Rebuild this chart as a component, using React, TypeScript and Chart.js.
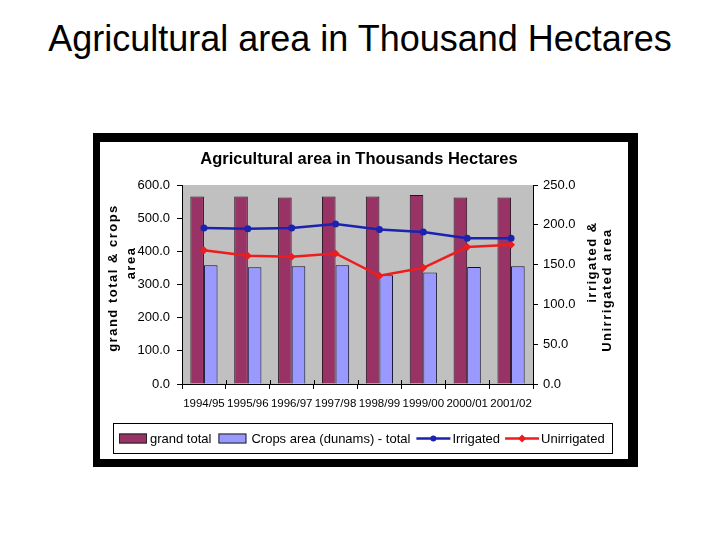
import React, { useEffect, useRef } from "react";
import { Chart, registerables } from "chart.js";

Chart.register(...registerables);

const categories = ["1994/95", "1995/96", "1996/97", "1997/98", "1998/99", "1999/00", "2000/01", "2001/02"];
const grandTotal = [565, 565, 562, 565, 565, 570, 562, 562];
const cropsArea = [358, 352, 355, 358, 328, 336, 353, 355];
const irrigated = [196, 195, 196, 201, 194, 191, 183, 183];
const unirrigated = [168, 161, 160, 164, 136, 146, 172, 175];

const leftTicksMax = 600;
const leftStep = 100;
const rightTicksMax = 250;
const rightStep = 50;

const slideTitle = "Agricultural area in Thousand Hectares";
const chartTitle = "Agricultural area in Thousands Hectares";
const leftTitle = ["grand total & crops", "area"];
const rightTitle = ["irrigated &", "Unirrigated area"];
const seriesNames = ["grand total", "Crops area (dunams) - total", "Irrigated", "Unirrigated"];

const C_GRAND = "#993366";
const C_CROPS = "#9999ff";
const C_IRR = "#1a22b0";
const C_UNIRR = "#ee1c1c";
const FONT = "Arial, 'Liberation Sans', sans-serif";

const decor = {
  id: "decor",
  beforeDraw(chart: any) {
    const { ctx, chartArea: a } = chart;
    ctx.save();
    ctx.fillStyle = "#ffffff";
    ctx.fillRect(0, 0, chart.width, chart.height);
    ctx.fillStyle = "#c0c0c0";
    ctx.fillRect(a.left, a.top, a.right - a.left, a.bottom - a.top);
    ctx.restore();
  },
  afterDraw(chart: any) {
    const { ctx, chartArea: a } = chart;
    ctx.save();
    // chart title
    ctx.fillStyle = "#000";
    ctx.font = `bold 16.5px ${FONT}`;
    ctx.textAlign = "center";
    ctx.textBaseline = "middle";
    ctx.fillText(chartTitle, 259, 17);

    // cross ticks on x axis
    ctx.strokeStyle = "#000";
    ctx.lineWidth = 1;
    const n = categories.length;
    for (let i = 0; i <= n; i++) {
      const x = Math.round(a.left + (i * (a.right - a.left)) / n) + 0.5;
      ctx.beginPath();
      ctx.moveTo(x, a.bottom - 4);
      ctx.lineTo(x, a.bottom);
      ctx.stroke();
    }

    // axis titles
    ctx.font = `bold 13px ${FONT}`;
    (ctx as any).letterSpacing = "1.5px";
    const drawRot = (text: string, x: number, y: number) => {
      ctx.save();
      ctx.translate(x, y);
      ctx.rotate(-Math.PI / 2);
      ctx.textAlign = "center";
      ctx.textBaseline = "middle";
      ctx.fillText(text, 0, 0);
      ctx.restore();
    };
    drawRot(leftTitle[0], 13, 136);
    drawRot(leftTitle[1], 31, 121);
    drawRot(rightTitle[0], 492, 120);
    drawRot(rightTitle[1], 507, 148);
    (ctx as any).letterSpacing = "0px";

    // legend
    const bx = 13, by = 281, bw = 499, bh = 30;
    ctx.strokeStyle = "#000";
    ctx.strokeRect(bx + 0.5, by + 0.5, bw, bh);
    const cy = by + bh / 2 + 0.5;
    ctx.font = `13px ${FONT}`;
    ctx.textAlign = "left";
    ctx.textBaseline = "middle";
    let x = 19;
    const swatch = (color: string) => {
      ctx.fillStyle = color;
      ctx.fillRect(x, cy - 5, 28, 10);
      ctx.strokeStyle = "#222";
      ctx.strokeRect(x + 0.5, cy - 5 + 0.5, 27, 9);
      x += 28;
    };
    const text = (t: string) => {
      ctx.fillStyle = "#000";
      ctx.fillText(t, x, cy + 1);
      x += ctx.measureText(t).width;
    };
    const line = (color: string, marker: string) => {
      ctx.strokeStyle = color;
      ctx.lineWidth = 2.5;
      ctx.beginPath();
      ctx.moveTo(x, cy);
      ctx.lineTo(x + 34, cy);
      ctx.stroke();
      ctx.fillStyle = color;
      const mx = x + 17;
      ctx.beginPath();
      if (marker === "circle") {
        ctx.arc(mx, cy, 3, 0, Math.PI * 2);
      } else {
        ctx.moveTo(mx, cy - 4);
        ctx.lineTo(mx + 4, cy);
        ctx.lineTo(mx, cy + 4);
        ctx.lineTo(mx - 4, cy);
        ctx.closePath();
      }
      ctx.fill();
      ctx.lineWidth = 1;
      x += 34;
    };
    swatch(C_GRAND);
    x += 3;
    text(seriesNames[0]);
    x += 7;
    swatch(C_CROPS);
    x += 5;
    text(seriesNames[1]);
    x += 6;
    line(C_IRR, "circle");
    x += 2;
    text(seriesNames[2]);
    x += 5;
    line(C_UNIRR, "diamond");
    x += 2;
    text(seriesNames[3]);
    ctx.restore();
  },
};

export default function App() {
  const ref = useRef<HTMLCanvasElement | null>(null);
  useEffect(() => {
    if (!ref.current) return;
    const tickFont = { family: FONT, size: 13 };
    const chart = new Chart(ref.current, {
      type: "bar",
      data: {
        labels: categories,
        datasets: [
          {
            type: "line",
            label: seriesNames[2],
            data: irrigated,
            yAxisID: "y1",
            borderColor: C_IRR,
            backgroundColor: C_IRR,
            borderWidth: 2.5,
            pointStyle: "circle",
            pointRadius: 3.5,
            pointBorderWidth: 0,
            order: 0,
          } as any,
          {
            type: "line",
            label: seriesNames[3],
            data: unirrigated,
            yAxisID: "y1",
            borderColor: C_UNIRR,
            backgroundColor: C_UNIRR,
            borderWidth: 2.5,
            pointStyle: "rectRot",
            pointRadius: 4,
            pointBorderWidth: 0,
            order: 0,
          } as any,
          {
            type: "bar",
            label: seriesNames[0],
            data: grandTotal,
            yAxisID: "y",
            backgroundColor: C_GRAND,
            borderColor: "#2a1020",
            borderWidth: 1,
            order: 1,
          },
          {
            type: "bar",
            label: seriesNames[1],
            data: cropsArea,
            yAxisID: "y",
            backgroundColor: C_CROPS,
            borderColor: "#101030",
            borderWidth: 1,
            order: 1,
          },
        ],
      },
      options: {
        responsive: false,
        animation: false,
        devicePixelRatio: 1,
        layout: { padding: { top: 43, bottom: 40, left: 0, right: 0 } },
        datasets: { bar: { categoryPercentage: 0.62, barPercentage: 1, grouped: true } },
        plugins: { legend: { display: false }, title: { display: false }, tooltip: { enabled: false } },
        scales: {
          x: {
            offset: true,
            grid: { offset: true, drawOnChartArea: false, tickLength: 5, color: "#000" },
            border: { color: "#000", width: 1 },
            ticks: { font: { family: FONT, size: 11.5 }, color: "#000", maxRotation: 0, autoSkip: false, padding: 8 },
            afterFit: (s: any) => { s.height = 35; },
          },
          y: {
            position: "left",
            min: 0,
            max: leftTicksMax,
            ticks: { stepSize: leftStep, font: tickFont, color: "#000", padding: 7, callback: (v: any) => Number(v).toFixed(1) },
            grid: { drawOnChartArea: false, tickLength: 5, color: "#000" },
            border: { color: "#000", width: 1 },
            afterFit: (s: any) => { s.width = 82; },
          },
          y1: {
            position: "right",
            min: 0,
            max: rightTicksMax,
            ticks: { stepSize: rightStep, font: tickFont, color: "#000", padding: 5, callback: (v: any) => Number(v).toFixed(1) },
            grid: { drawOnChartArea: false, tickLength: 5, color: "#000" },
            border: { color: "#000", width: 1 },
            afterFit: (s: any) => { s.width = 95; },
          },
        },
      } as any,
      plugins: [decor],
    });
    return () => chart.destroy();
  }, []);

  return (
    <div style={{ position: "absolute", left: 0, top: 0, width: 720, height: 540, background: "#fff", fontFamily: FONT }}>
      <div
        style={{
          position: "absolute",
          left: 0,
          top: 21,
          width: 720,
          textAlign: "center",
          fontSize: 36,
          lineHeight: "36px",
          color: "#000",
          whiteSpace: "nowrap",
        }}
      >
        {slideTitle}
      </div>
      <div
        style={{
          position: "absolute",
          left: 93,
          top: 133,
          width: 528,
          height: 317,
          borderStyle: "solid",
          borderColor: "#000",
          borderLeftWidth: 7,
          borderRightWidth: 10,
          borderTopWidth: 9,
          borderBottomWidth: 8,
          background: "#fff",
        }}
      >
        <canvas ref={ref} width={528} height={317} style={{ display: "block", width: 528, height: 317 }} />
      </div>
    </div>
  );
}
